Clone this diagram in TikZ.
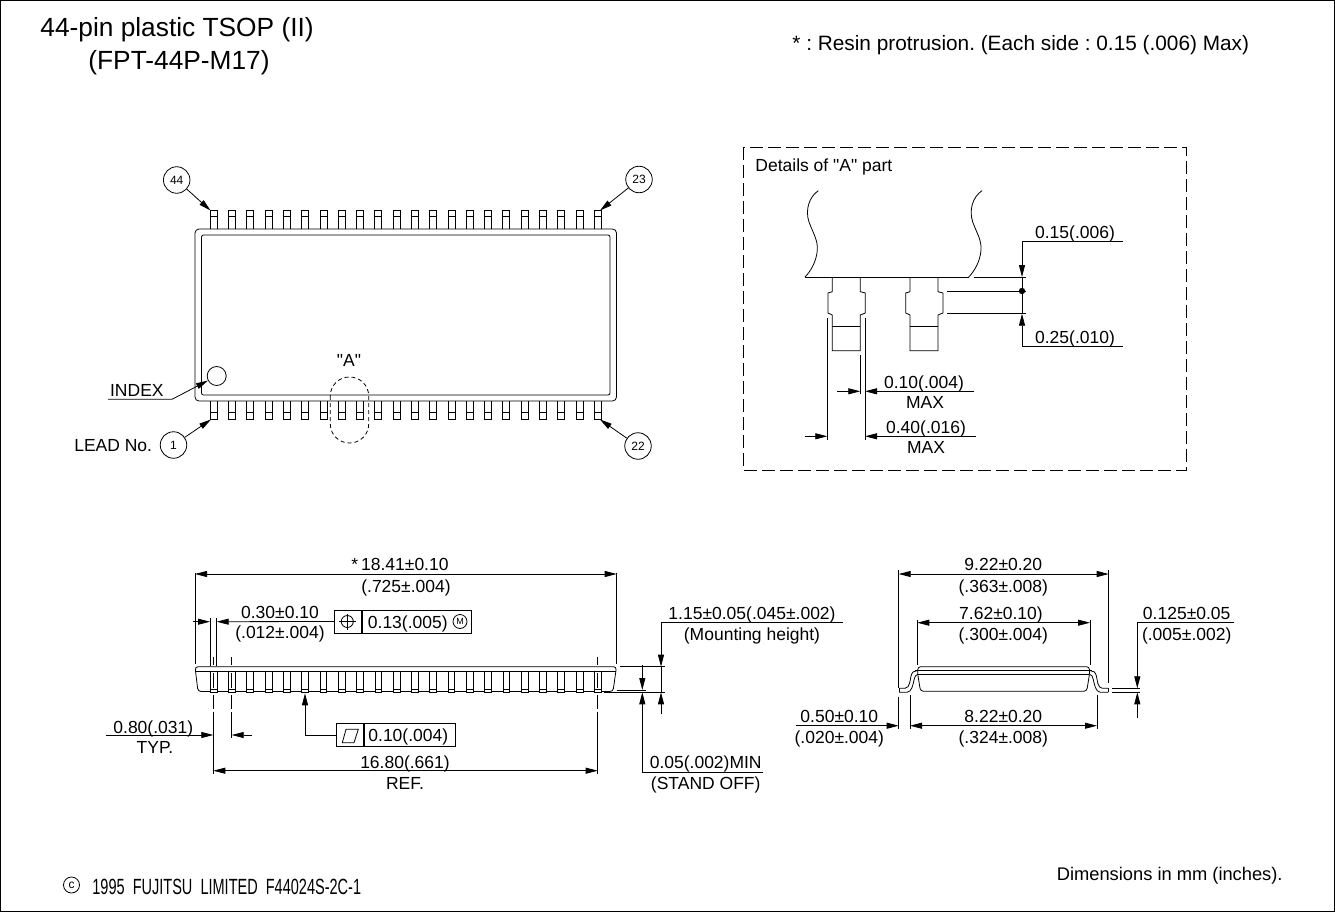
\documentclass[tikz,border=0pt]{standalone}
\usepackage{fontspec}
\setmainfont{Liberation Sans}
\newfontfamily\plainfont{Liberation Sans}
\newfontfamily\narrowfont[FakeStretch=0.66]{Liberation Sans}
\usetikzlibrary{arrows.meta}
\frenchspacing

\begin{document}
\begin{tikzpicture}[x=1pt, y=-1pt, line width=.8pt, font=\fontsize{17.5}{17.5}\selectfont,
		lbl/.style={inner sep=0pt, text height=12.5pt, text depth=0pt},
		pin/.style={draw, circle, inner sep=0pt, minimum size=26.5pt, font=\fontsize{12}{12}\selectfont},
		dim/.style={-{Triangle[length=12pt,width=6pt]}},
		bothdim/.style={{Triangle[length=12pt,width=6pt]}-{Triangle[length=12pt,width=6pt]}},
		fcfbox/.style={draw, minimum height=23pt, inner sep=0pt}]
	\useasboundingbox (0,0) rectangle (1335,912);
	\draw[line width=1.2pt] (.6,.6) rectangle (1334.4,911.4);

	% Headings
	\node[anchor=west, inner sep=0pt, font=\fontsize{26.3}{26.3}\selectfont] (title) at (40,30) {44-pin plastic TSOP (II)};
	\node[anchor=west, inner sep=0pt, font=\fontsize{26.3}{26.3}\selectfont] (titlecode) at (88,63) {(FPT-44P-M17)};
	\node[anchor=west, inner sep=0pt, font=\fontsize{20.8}{20.8}\selectfont] (resin) at (792,45) {* : Resin protrusion. (Each side : 0.15 (.006) Max)};
	\node[draw, circle, inner sep=0pt, minimum size=16pt, font=\fontsize{12}{12}\selectfont] (copymark) at (71.5,885) {c};
	\node[anchor=west, inner sep=0pt, font=\narrowfont\fontsize{22}{22}\selectfont] (copyright) at (92,887) {1995\ \ FUJITSU\ \ LIMITED\ \ F44024S-2C-1};
	\node[anchor=east, inner sep=0pt, font=\fontsize{18.3}{18.3}\selectfont] (units) at (1283,876) {Dimensions in mm (inches).};

	% Top view, package body
	\draw[rounded corners=4pt] (195,229) rectangle (616.5,401);
	\draw[rounded corners=2pt] (201.5,235) rectangle (610,395);

	% Top view, leads
	\foreach \i in {0,...,21} {
		\pgfmathsetmacro{\cx}{213.7+18.29*\i}
		\draw (\cx-3.5,229) -- (\cx-3.5,210.7) -- (\cx+3.5,210.7) -- (\cx+3.5,229);
		\draw (\cx-3.5,216.7) -- (\cx+3.5,216.7);
		\draw (\cx-3.5,401) -- (\cx-3.5,419) -- (\cx+3.5,419) -- (\cx+3.5,401);
		\draw (\cx-3.5,412.7) -- (\cx+3.5,412.7);
	}

	% Lead numbers
	\node[pin] (pin44) at (176.7,180) {44};
	\node[pin] (pin23) at (639,179.5) {23};
	\node[pin] (pin1) at (173.5,445) {1};
	\node[pin] (pin22) at (638,446) {22};
	\coordinate (lead44) at (210.5,210.5);
	\coordinate (lead23) at (600,210.5);
	\coordinate (lead1) at (211,419.5);
	\coordinate (lead22) at (600,419.5);
	\draw[dim] (pin44) -- (lead44);
	\draw[dim] (pin23) -- (lead23);
	\draw[dim] (pin1) -- (lead1);
	\draw[dim] (pin22) -- (lead22);
	\node[anchor=east, inner sep=0pt] (leadno) at (152.5,446) {LEAD No.};

	% Index mark
	\node[draw, circle, inner sep=0pt, minimum size=19pt] (indexmark) at (216.7,376) {};
	\node[lbl, anchor=east] (indexlbl) at (164,390) {INDEX};
	\coordinate (indexstart) at (108,399.3);
	\draw[dim] (indexstart) -- (172,399.3) -- (indexmark);

	% Part A marker
	\node[lbl, font=\plainfont\fontsize{17.5}{17.5}\selectfont] (partA) at (349,360) {"A"};
	\draw[dash pattern=on 4pt off 3pt, rounded corners=19pt] (330.3,377) rectangle (368.7,443);

	% Details of A
	\draw[dash pattern=on 13pt off 5pt] (743,147) rectangle (1186,470);
	\node[lbl, anchor=west, font=\plainfont\fontsize{17.5}{17.5}\selectfont] (detailtitle) at (755,165) {Details of "A" part};
	\draw (805,277) -- (969,277);
	\foreach \dx in {0,163.7}
		\draw[shift={(\dx,0)}] (818.3,190.7) .. controls (809,197) and (805,210) .. (809,222) .. controls (813,233) and (818,240) .. (817.3,250) .. controls (816.5,262) and (810,272) .. (805,277);
	\foreach \dx in {0,77.7} {
		\draw[shift={(\dx,0)}] (832.3,277) -- (832.3,291.7) -- (828,293) -- (828,313) -- (832.3,315) -- (832.3,350.7) -- (860.3,350.7) -- (860.3,315) -- (865.3,313) -- (865.3,293) -- (860.3,291.7) -- (860.3,277);
		\draw[shift={(\dx,0)}] (832.3,326) -- (860.3,326);
	}

	% Details of A, thickness
	\draw (974.3,277) -- (1026,277);
	\draw (947,291) -- (1026,291);
	\draw (947,313.7) -- (1026,313.7);
	\draw (1022,277) -- (1022,313.7);
	\fill (1022,291) circle (3.2pt);
	\draw[dim] (1122.7,241.3) -- (1022,241.3) -- (1022,277);
	\draw[dim] (1122.7,346) -- (1022,346) -- (1022,313.7);
	\node[lbl] (thicktop) at (1075,232) {0.15(.006)};
	\node[lbl] (thickbot) at (1075,337) {0.25(.010)};

	% Details of A, widths
	\draw (827.3,317.7) -- (827.3,440);
	\draw (865,317.7) -- (865,440);
	\draw (860.3,355) -- (860.3,394);
	\draw[dim] (837.3,391.3) -- (860.3,391.3);
	\draw[dim] (974,391.3) -- (865,391.3);
	\draw[dim] (804.7,436.3) -- (827.3,436.3);
	\draw[dim] (976,436.3) -- (865,436.3);
	\node[lbl] (wida) at (924,382) {0.10(.004)};
	\node[lbl] (widamax) at (925,402) {MAX};
	\node[lbl] (widb) at (926,427) {0.40(.016)};
	\node[lbl] (widbmax) at (926,447) {MAX};

	% Side view, package body
	\draw[rounded corners=3pt] (198,691.5) -- (195,666.7) -- (616.5,666.7) -- (613,691.5) -- cycle;
	\draw (195.5,671.7) -- (616,671.7);
	\foreach \i in {0,...,21} {
		\pgfmathsetmacro{\cx}{213.7+18.29*\i}
		\draw[fill=white] (\cx-3.4,671.7) rectangle (\cx+3.4,692.7);
		\draw (\cx-3.4,689.3) -- (\cx+3.4,689.3);
	}

	% Side view, centre lines
	\foreach \cx/\yend in {213.3/774,231.7/738,597.7/774}
		\draw (\cx,657) -- (\cx,665) (\cx,673) -- (\cx,688) (\cx,695) -- (\cx,709) (\cx,712) -- (\cx,\yend);

	% Side view, overall length
	\draw (195,572.7) -- (195,664);
	\draw (616.7,572.7) -- (616.7,664);
	\draw[bothdim] (195,574) -- (616.7,574);
	\node[lbl] (lenmm) at (400,564) {*\,18.41±0.10};
	\node[lbl] (lenin) at (406,586) {(.725±.004)};

	% Side view, lead width
	\draw (210,618) -- (210,666);
	\draw (216.7,618) -- (216.7,666);
	\draw[dim] (193,621.7) -- (210,621.7);
	\node[fcfbox, minimum width=26.6pt] (poscell) at (348,621.5) {};
	\node[fcfbox, minimum width=109.7pt, anchor=west] (posval) at (poscell.east) {};
	\node[lbl, anchor=west] (posvaltext) at (367.5,622) {0.13(.005)};
	\node[draw, circle, inner sep=0pt, minimum size=14pt, font=\fontsize{9}{9}\selectfont] (posm) at (460,621.5) {M};
	\draw[dim] (poscell.west) -- (216.7,621.7);
	\draw (347.3,621.5) circle (6pt);
	\draw (339,621.5) -- (355.6,621.5);
	\draw (347.3,613.5) -- (347.3,629.5);
	\node[lbl] (leadmm) at (280,612) {0.30±0.10};
	\node[lbl] (leadin) at (280,632) {(.012±.004)};

	% Side view, pitch
	\draw[dim] (106,735) -- (213.3,735);
	\draw[dim] (251.7,735) -- (231.7,735);
	\node[lbl] (pitchmm) at (153.3,727) {0.80(.031)};
	\node[lbl] (pitchtyp) at (155,747) {TYP.};

	% Side view, flatness
	\node[fcfbox, minimum width=26.6pt] (flatcell) at (350,735) {};
	\node[fcfbox, minimum width=91pt, anchor=west] (flatval) at (flatcell.east) {};
	\node[lbl] (flattext) at (408.3,735.5) {0.10(.004)};
	\coordinate (flattip) at (305,693.3);
	\draw[dim] (flatcell.west) -- (305,735) -- (flattip);
	\draw (342.3,742.7) -- (346,729.3) -- (358.3,729.3) -- (354,742.7) -- cycle;

	% Side view, reference length
	\draw[bothdim] (213.3,770.7) -- (597.7,770.7);
	\node[lbl] (refmm) at (405,762) {16.80(.661)};
	\node[lbl] (reftxt) at (405,783) {REF.};

	% Side view, heights
	\draw (620,666.7) -- (665,666.7);
	\draw (604,692.3) -- (665,692.3);
	\draw (616.7,690) -- (646,690);
	\draw (661,666.7) -- (661,692.3);
	\draw[dim] (842.7,622.7) -- (661,622.7) -- (661,666.7);
	\draw[dim] (661,714.3) -- (661,692.3);
	\draw[dim] (642.3,665.3) -- (642.3,690);
	\draw[dim] (763.3,772) -- (642.3,772) -- (642.3,692.3);
	\node[lbl] (mountmm) at (752,613) {1.15±0.05(.045±.002)};
	\node[lbl] (mounttxt) at (752,634) {(Mounting height)};
	\node[lbl] (standmm) at (705.7,762.7) {0.05(.002)MIN};
	\node[lbl] (standtxt) at (705.7,783) {(STAND OFF)};

	% End view, package body and lead
	\draw[rounded corners=3pt] (917.7,674) -- (917.7,666.7) -- (1089.5,666.7) -- (1089.5,674) -- (1086.7,691.3) -- (920.5,691.3) -- cycle;
	\draw (915,670.7) -- (1092,670.7);
	\draw (918,674.3) -- (1089,674.3);
	\foreach \dx/\sx in {0/1,2007.4/-1} {
		\draw[xshift=\dx, xscale=\sx] (899,688.3) -- (905,688.3) .. controls (910,688) and (910,680) .. (911,676) .. controls (912,672) and (914,670.7) .. (917,670.7);
		\draw[xshift=\dx, xscale=\sx] (899,692.3) -- (907,692.3) .. controls (912,692) and (913,684) .. (914,680) .. controls (915,676) and (916,674.3) .. (918,674.3);
		\draw[xshift=\dx, xscale=\sx] (899,688.3) -- (899,692.3);
	}

	% End view, widths
	\draw (898.7,570) -- (898.7,688);
	\draw (898.7,696.7) -- (898.7,729);
	\draw (1108.7,570) -- (1108.7,683);
	\draw[bothdim] (898.7,574) -- (1108.7,574);
	\node[lbl] (spanmm) at (1003.3,564.7) {9.22±0.20};
	\node[lbl] (spanin) at (1003.3,586) {(.363±.008)};
	\draw (917.3,620) -- (917.3,665);
	\draw (1090,620) -- (1090,665);
	\draw[bothdim] (917.3,622.7) -- (1090,622.7);
	\node[lbl] (bodymm) at (1001,613) {7.62±0.10)};
	\node[lbl] (bodyin) at (1003.3,634.7) {(.300±.004)};
	\draw (910,695) -- (910,729.3);
	\draw (1097,695) -- (1097,729.3);
	\draw[bothdim] (910,725.7) -- (1097,725.7);
	\node[lbl] (toemm) at (1003.3,716) {8.22±0.20};
	\node[lbl] (toein) at (1003.3,737.5) {(.324±.008)};
	\draw[dim] (796,725.7) -- (898.7,725.7);
	\node[lbl] (footmm) at (839.3,716) {0.50±0.10};
	\node[lbl] (footin) at (839.3,737.5) {(.020±.004)};

	% End view, lead thickness
	\draw (1112,688.3) -- (1140,688.3);
	\draw (1112,692.3) -- (1140,692.3);
	\draw[dim] (1234.3,622.7) -- (1137.3,622.7) -- (1137.3,688.3);
	\draw[dim] (1137.3,718.3) -- (1137.3,692.3);
	\node[lbl] (platemm) at (1186.7,613) {0.125±0.05};
	\node[lbl] (platein) at (1186.7,634.7) {(.005±.002)};
\end{tikzpicture}
\end{document}
